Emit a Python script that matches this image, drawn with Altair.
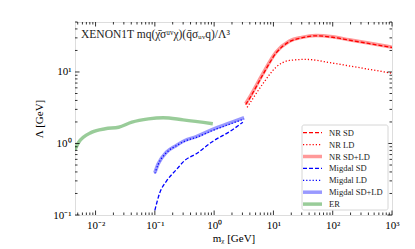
import altair as alt
import pandas as pd

# ---------------- data ----------------
er_m = [0.0045, 0.0052, 0.0087, 0.0146, 0.0245, 0.041, 0.078, 0.138, 0.30, 0.95]
er_l = [0.82, 1.04, 1.44, 1.61, 1.69, 1.99, 2.21, 2.29, 2.14, 1.89]

mig_m = [0.1, 0.114, 0.158, 0.23, 0.32, 0.5, 0.9, 1.95, 3.2]
mig_sdld = [0.39, 0.52, 0.76, 0.94, 1.1, 1.25, 1.55, 1.98, 2.3]
mig_ld = [0.38, 0.51, 0.75, 0.93, 1.08, 1.22, 1.5, 1.9, 2.2]
mig_sd_m = [0.1, 0.12, 0.158, 0.23, 0.32, 0.5, 0.9, 1.95, 3.05]
mig_sd = [0.116, 0.2, 0.30, 0.43, 0.58, 0.72, 1.04, 1.52, 1.98]

nr_m = [3.4, 3.95, 6.6, 11.1, 18.6, 30, 52, 100, 189, 400, 1000]
nr_sdld = [3.6, 4.4, 9.4, 18.9, 27.0, 30.5, 32.4, 31.0, 28.2, 25.4, 22.2]
nr_sd = [3.5, 4.25, 9.1, 18.4, 26.5, 30.0, 32.0, 30.6, 27.9, 25.1, 22.0]
nr_ld_m = [3.6, 3.95, 6.6, 11.1, 18.6, 35, 99, 300, 1000]
nr_ld = [3.2, 3.6, 6.8, 11.7, 14.5, 15.0, 13.3, 11.4, 9.6]

x_major = [0.01, 0.1, 1, 10, 100, 1000]
x_labels = ["10⁻²", "10⁻¹", "10⁰", "10¹", "10²", "10³"]
y_major = [0.1, 1, 10]
y_labels = ["10⁻¹", "10⁰", "10¹"]

legend_names = ["NR SD", "NR LD", "NR SD+LD", "Migdal SD", "Migdal LD",
                "Migdal SD+LD", "ER"]
title_text = "XENON1T mq(χ̄σᵘᵛχ)(q̄σᵤᵥq)/Λ³"

# ---------------- layout ----------------
W, H = 317, 193
FONT = "Liberation Serif"
xs = alt.Scale(type="log", domain=[0.0045, 1000], nice=False)
ys = alt.Scale(type="log", domain=[0.1, 50], nice=False)


def label_expr(vals, labs):
    expr = "'" + labs[-1] + "'"
    for v, l in reversed(list(zip(vals[:-1], labs[:-1]))):
        expr = f"datum.value < {v * 3.16} ? '{l}' : " + expr
    return expr


xaxis = alt.Axis(values=x_major, labelExpr=label_expr(x_major, x_labels),
                 ticks=False, domain=False, grid=False, labelPadding=4,
                 labelFontSize=11, labelFont=FONT, labelColor="black",
                 title="mᵪ [GeV]", titleFont=FONT, titleFontSize=11,
                 titleFontWeight="normal", titleColor="black", titlePadding=2,
                 labelFlush=False)
yaxis = alt.Axis(values=y_major, labelExpr=label_expr(y_major, y_labels),
                 ticks=False, domain=False, grid=False, labelPadding=4,
                 labelFontSize=11, labelFont=FONT, labelColor="black",
                 title="Λ [GeV]", titleFont=FONT, titleFontSize=11,
                 titleFontWeight="normal", titleColor="black", titlePadding=8,
                 labelFlush=False)

X = lambda f: alt.X(f, scale=xs, axis=xaxis)
Y = lambda f: alt.Y(f, scale=ys, axis=yaxis)


def line(m, l, color, width, opacity=1.0, dash=None):
    df = pd.DataFrame({"m": m, "lam": l})
    kw = dict(color=color, strokeWidth=width, opacity=opacity,
              interpolate="monotone", clip=True, strokeCap="butt")
    if dash:
        kw["strokeDash"] = dash
    return alt.Chart(df).mark_line(**kw).encode(x=X("m:Q"), y=Y("lam:Q"))


DASH = [4, 2]
DOT = [1.2, 2]
styles = [
    ("#ff0000", 1.3, 1.0, DASH),
    ("#ff0000", 1.3, 1.0, DOT),
    ("#ff0000", 3.5, 0.4, None),
    ("#0000ff", 1.3, 1.0, DASH),
    ("#0000ff", 1.3, 1.0, DOT),
    ("#0000ff", 3.5, 0.4, None),
    ("#008000", 3.5, 0.4, None),
]

layers = [
    line(nr_m, nr_sd, *styles[0]),
    line(nr_ld_m, nr_ld, *styles[1]),
    line(nr_m, nr_sdld, *styles[2]),
    line(mig_sd_m, mig_sd, *styles[3]),
    line(mig_m, mig_ld, *styles[4]),
    line(mig_m, mig_sdld, *styles[5]),
    line(er_m, er_l, *styles[6]),
]

# ---------------- inward ticks ----------------
x_minor = [k * 10.0 ** n for n in range(-3, 3) for k in range(2, 10)
           if 0.0045 <= k * 10.0 ** n <= 1000]
y_minor = [k * 10.0 ** n for n in range(-1, 2) for k in range(2, 10)
           if k * 10.0 ** n <= 50]

for vals, ln in ((x_major, 4.5), (x_minor, 2.5)):
    df = pd.DataFrame({"v": vals})
    for y0, y1 in ((H, H - ln), (0, ln)):
        layers.append(alt.Chart(df).mark_rule(color="black", strokeWidth=0.8).encode(
            x=X("v:Q"), y=alt.value(y0), y2=alt.value(y1)))
for vals, ln in ((y_major, 4.5), (y_minor, 2.5)):
    df = pd.DataFrame({"v": vals})
    for x0, x1 in ((0, ln), (W, W - ln)):
        layers.append(alt.Chart(df).mark_rule(color="black", strokeWidth=0.8).encode(
            y=Y("v:Q"), x=alt.value(x0), x2=alt.value(x1)))

one = pd.DataFrame({"a": [0]})

# ---------------- in-plot title ----------------
layers.append(alt.Chart(one).mark_text(
    text=title_text, align="left", baseline="alphabetic", font=FONT,
    fontSize=11.5, color="#222222").encode(x=alt.value(6), y=alt.value(16)))

# ---------------- legend ----------------
LX0, LX1, LY0, LY1 = 227, 313, 103, 188
layers.append(alt.Chart(one).mark_rect(
    fill="white", fillOpacity=0.85, stroke="#cccccc", strokeWidth=0.8,
    cornerRadius=2).encode(x=alt.value(LX0), x2=alt.value(LX1),
                           y=alt.value(LY0), y2=alt.value(LY1)))
for i, (name, st) in enumerate(zip(legend_names, styles)):
    yy = 110.7 + 11.9 * i
    color, width, opacity, dash = st
    kw = dict(color=color, strokeWidth=width, opacity=opacity, strokeCap="butt")
    if dash:
        kw["strokeDash"] = dash
    layers.append(alt.Chart(one).mark_rule(**kw).encode(
        x=alt.value(228), x2=alt.value(247), y=alt.value(yy)))
    layers.append(alt.Chart(one).mark_text(
        text=name, align="left", baseline="middle", font=FONT, fontSize=8.5,
        color="#222222").encode(x=alt.value(254), y=alt.value(yy)))

chart = alt.layer(*layers).properties(
    width=W, height=H,
    autosize=alt.AutoSizeParams(type="none"),
    padding={"left": 67, "top": 14, "right": 15, "bottom": 34},
).configure_view(stroke="black", strokeWidth=1.4).configure(background="white")

chart.save("out.html", embed_options={"renderer": "svg", "actions": False})
